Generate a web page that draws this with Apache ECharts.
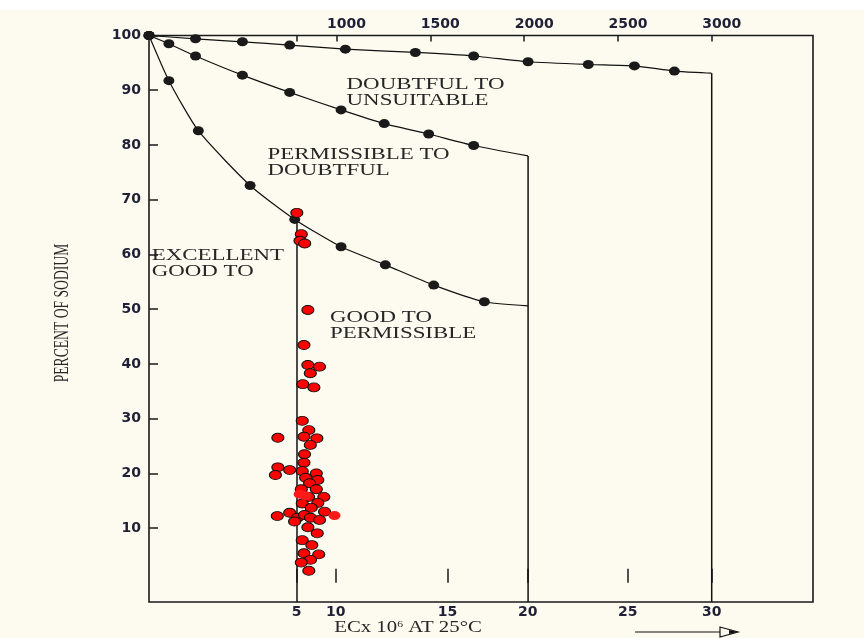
<!DOCTYPE html>
<html>
<head>
<meta charset="utf-8">
<script src="https://cdn.jsdelivr.net/npm/echarts@6/dist/echarts.min.js"></script>
<style>
html,body{margin:0;padding:0;background:#fdfbf0;}
#c{width:864px;height:638px;}
</style>
</head>
<body>
<div id="c"></div>
<script>
// ---- Data (EC in µS/cm on x, percent sodium on y) ----
const curve1Dots = [[0,100],[248,99.4],[498,98.85],[750,98.25],[1047,97.5],[1420,96.9],[1731,96.25],[2021,95.2],[2342,94.7],[2588,94.45],[2801,93.5]];
const curve1End = [3000,93.1];
const curve2Dots = [[0,100],[106,98.5],[248,96.25],[498,92.75],[750,89.6],[1024,86.4],[1254,83.9],[1491,82.0],[1731,79.9]];
const curve2End = [2021,78.0];
const curve3Dots = [[0,100],[106,91.75],[263,82.6],[539,72.6],[777,66.4],[1024,61.4],[1260,58.1],[1518,54.4],[1788,51.35]];
const curve3End = [2021,50.6];

const boundaryEC = [789, 2021, 3000];
const boundaryTop = [66.2, 78.0, 93.1];

const samples = [[788,67.6],[812,63.7],[805,62.5],[830,62.0],[847,49.85],[826,43.45],[847,39.8],[909,39.5],[860,38.3],[820,36.3],[879,35.7],[817,29.6],[852,27.9],[687,26.5],[826,26.7],[895,26.4],[860,25.2],[829,23.5],[826,21.95],[687,21.1],[750,20.6],[674,19.7],[817,20.4],[892,20.0],[835,19.2],[900,18.8],[856,18.2],[812,17.1],[892,17.1],[851,15.7],[932,15.7],[817,14.5],[900,14.6],[865,13.7],[750,12.8],[684,12.2],[936,13.0],[791,11.9],[829,12.4],[776,11.2],[861,11.9],[909,11.5],[847,10.15],[897,9.05],[817,7.8],[868,6.9],[826,5.4],[905,5.2],[861,4.2],[812,3.7],[852,2.2]];
const samplesPlain = [[803,16.2],[835,15.9],[989,12.3]];

const yTicks = [10,20,30,40,50,60,70,80,90,100];
const topTickEC = [787,1000,1500,2000,2500,3000];
const topLabelEC = [1000,1500,2000,2500,3000];
const bottomTickEC = [787,995,1592,2019,2552,3000];
const bottomTickLabels = ['5','10','15','20','25','30'];

const X_MIN = 0, X_MAX = 3540, Y_MIN = -3.5, Y_MAX = 100;

// ---- Chart ----
const BG = '#fdfbf0';
const INK = '#1a1a1a';
const labelFont = {color:'#1f1f35', fontFamily:'"DejaVu Sans", sans-serif', fontSize:14, fontWeight:'bold'};

function curveSeries(dots, end){
  return {
    type:'line', silent:true, smooth:0.2,
    symbol:'circle', symbolSize:[11,9],
    itemStyle:{color:INK},
    lineStyle:{color:'#111', width:1.2},
    data: dots.map(p => ({value:p})).concat([{value:end, symbol:'none'}]),
    z:3
  };
}
const boundarySeries = boundaryEC.map((x,i) => ({
  type:'line', silent:true, symbol:'none',
  lineStyle:{color:'#111', width:1.5},
  data:[[x,boundaryTop[i]],[x,Y_MIN]], z:2
}));

function annot(text, x, y){
  return {type:'text', x:x, y:y, scaleX:1.43, silent:true,
    style:{text:text, font:'16px "Liberation Serif", serif', fill:'#262626',
      align:'left', textAlign:'left', verticalAlign:'middle', textVerticalAlign:'middle'}};
}

const option = {
  backgroundColor: BG,
  animation:false,
  grid:{left:149, right:51, top:35.5, bottom:36, show:true, borderColor:INK, borderWidth:1.6, backgroundColor:'transparent'},
  xAxis:[
    {type:'value', position:'bottom', min:X_MIN, max:X_MAX,
      axisLine:{show:false}, splitLine:{show:false},
      axisTick:{show:true, inside:true, length:14, customValues:bottomTickEC, lineStyle:{color:INK, width:1.5}},
      axisLabel:Object.assign({customValues:bottomTickEC, margin:3,
        formatter:v => bottomTickLabels[bottomTickEC.indexOf(v)]}, labelFont)},
    {type:'value', position:'top', min:X_MIN, max:X_MAX,
      axisLine:{show:false}, splitLine:{show:false},
      axisTick:{show:true, inside:true, length:6, customValues:topTickEC, lineStyle:{color:INK, width:1.5}},
      axisLabel:Object.assign({customValues:topLabelEC, margin:4, padding:[0,0,0,20],
        formatter:v => String(v)}, labelFont)}
  ],
  yAxis:[
    {type:'value', min:Y_MIN, max:Y_MAX,
      axisLine:{show:false}, splitLine:{show:false},
      axisTick:{show:true, inside:true, length:9, customValues:yTicks, lineStyle:{color:INK, width:1.5}},
      axisLabel:Object.assign({customValues:yTicks, margin:8, formatter:v => String(v)}, labelFont)}
  ],
  series:[
    ...boundarySeries,
    curveSeries(curve1Dots, curve1End),
    curveSeries(curve2Dots, curve2End),
    curveSeries(curve3Dots, curve3End),
    {type:'scatter', silent:true, symbol:'circle', symbolSize:[12,9],
      itemStyle:{color:'#ff0000', borderColor:'#111', borderWidth:1, opacity:1},
      data:samples, z:5},
    {type:'scatter', silent:true, symbol:'circle', symbolSize:[12,9],
      itemStyle:{color:'#ff1a1a', borderWidth:0, opacity:1},
      data:samplesPlain, z:6}
  ],
  graphic:[
    {type:'rect', shape:{x:0,y:0,width:864,height:10}, style:{fill:'#ffffff'}, silent:true, z:-1},
    annot('DOUBTFUL TO', 346.6, 85),
    annot('UNSUITABLE', 346.6, 101),
    annot('PERMISSIBLE TO', 267.6, 154.5),
    annot('DOUBTFUL', 267.6, 170.5),
    annot('EXCELLENT', 151.8, 256),
    annot('GOOD TO', 151.8, 272),
    annot('GOOD TO', 330, 318),
    annot('PERMISSIBLE', 330, 333.5),
    {type:'text', x:62, y:313, rotation:Math.PI/2, scaleX:0.62, silent:true,
      style:{text:'PERCENT OF SODIUM', font:'22px "Liberation Serif", serif', fill:'#262626',
        align:'center', textAlign:'center', verticalAlign:'middle', textVerticalAlign:'middle'}},
    {type:'text', x:408, y:628, scaleX:1.3, silent:true,
      style:{text:'{a|ECx 10}{s|6}{a| AT 25°C}', fill:'#262626',
        align:'center', textAlign:'center', verticalAlign:'middle', textVerticalAlign:'middle',
        rich:{a:{font:'16px "Liberation Serif", serif', fill:'#262626'},
              s:{font:'9px "Liberation Serif", serif', fill:'#262626', verticalAlign:'top'}}}},
    {type:'line', silent:true, shape:{x1:635,y1:632,x2:722,y2:632}, style:{stroke:'#111', lineWidth:1.2}},
    {type:'polygon', silent:true, shape:{points:[[720,627],[738,632],[720,637]]}, style:{stroke:'#111', lineWidth:1.2, fill:BG}},
    {type:'polygon', silent:true, shape:{points:[[729,630],[738,632],[729,634]]}, style:{fill:'#111'}}
  ]
};

const chart = echarts.init(document.getElementById('c'), null, {renderer:'canvas'});
chart.setOption(option);
</script>
</body>
</html>
